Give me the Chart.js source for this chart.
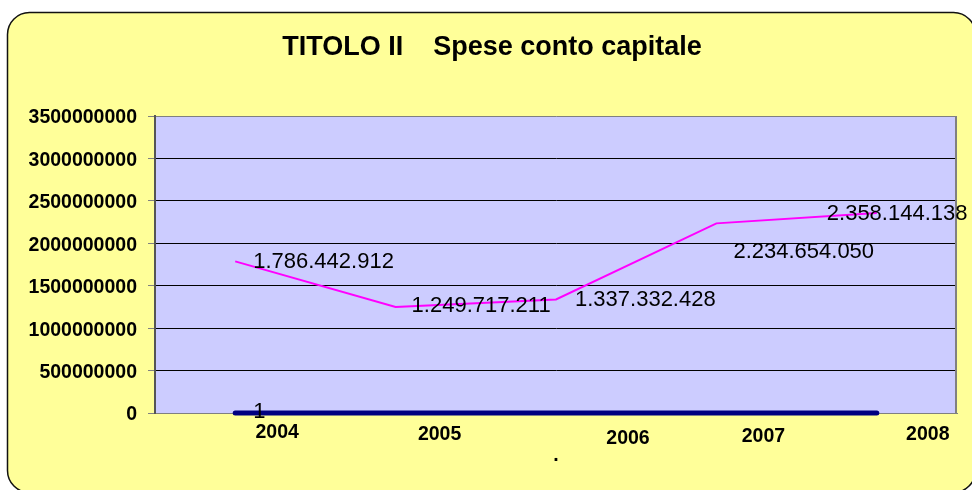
<!DOCTYPE html>
<html>
<head>
<meta charset="utf-8">
<title>TITOLO II Spese conto capitale</title>
<script src="https://cdn.jsdelivr.net/npm/chart.js@4/dist/chart.umd.min.js"></script>
<style>
  html, body { margin: 0; padding: 0; background: #fff; }
  .chart-wrap { position: relative; width: 972px; height: 490px; }
</style>
</head>
<body>
<div class="chart-wrap"><canvas id="speseChart"></canvas></div>
<script>
// Dati
const anni = ["2004", "2005", "2006", "2007", "2008"];
const speseCapitale = [1786442912, 1249717211, 1337332428, 2234654050, 2358144138];
const serieBase = [1, 0, 0, 0, 0];
const yTicks = [0, 500000000, 1000000000, 1500000000, 2000000000, 2500000000, 3000000000, 3500000000];
const titolo = "TITOLO II    Spese conto capitale";

// Spostamenti delle etichette (stile, non dati)
const xLabelShift = [[42, 25], [44, 27], [72, 31], [47, 29], [51, 27]];
const labelShift = [
  [[18, 7], [16, 5], [19, 6.5], [17, 35], [-50, 7]],
  [[18, 5]],
];

const FONT = "'Liberation Sans', Arial, Helvetica, sans-serif";
Chart.defaults.font.family = FONT;
Chart.defaults.color = "#000";

function formatIt(v) {
  return String(v).replace(/\B(?=(\d{3})+(?!\d))/g, ".");
}

function roundedBox(ctx, x, y, w, h, r) {
  ctx.beginPath();
  ctx.moveTo(x + r, y);
  ctx.lineTo(x + w - r, y);
  ctx.arcTo(x + w, y, x + w, y + r, r);
  ctx.lineTo(x + w, y + h - r);
  ctx.arcTo(x + w, y + h, x + w - r, y + h, r);
  ctx.lineTo(x + r, y + h);
  ctx.arcTo(x, y + h, x, y + h - r, r);
  ctx.lineTo(x, y + r);
  ctx.arcTo(x, y, x + r, y, r);
  ctx.closePath();
}

const decorPlugin = {
  id: "decor",
  beforeDraw(chart) {
    const { ctx, chartArea: a } = chart;
    ctx.save();
    ctx.fillStyle = "#ffffff";
    ctx.fillRect(0, 0, chart.width, chart.height);
    roundedBox(ctx, 7.5, 12.5, 968, 480, 22);
    ctx.fillStyle = "#FFFF99";
    ctx.fill();
    ctx.lineWidth = 1.5;
    ctx.strokeStyle = "#111";
    ctx.stroke();
    // area del grafico
    ctx.fillStyle = "#CCCCFF";
    ctx.fillRect(a.left, a.top, a.right - a.left, a.bottom - a.top);
    ctx.restore();
  },
  beforeDatasetsDraw(chart) {
    const { ctx, chartArea: a } = chart;
    ctx.save();
    ctx.strokeStyle = "#808080";
    ctx.lineWidth = 2;
    ctx.beginPath();
    ctx.moveTo(a.right - 1, a.top);
    ctx.lineTo(a.right - 1, a.bottom);
    ctx.stroke();
    ctx.restore();
  },
  afterDraw(chart) {
    const { ctx, chartArea: a } = chart;
    const xScale = chart.scales.x;
    ctx.save();

    // titolo
    ctx.fillStyle = "#000";
    ctx.font = "bold 27px " + FONT;
    ctx.textAlign = "center";
    ctx.textBaseline = "alphabetic";
    ctx.fillText(titolo, 492, 55);

    // etichette anni
    ctx.font = "bold 19.5px " + FONT;
    anni.forEach((anno, i) => {
      const px = xScale.getPixelForValue(i);
      ctx.fillText(anno, px + xLabelShift[i][0], a.bottom + xLabelShift[i][1]);
    });

    // etichette dei valori
    ctx.font = "22px " + FONT;
    ctx.textAlign = "left";
    chart.data.datasets.forEach((ds, d) => {
      const meta = chart.getDatasetMeta(d);
      meta.data.forEach((pt, i) => {
        const v = ds.data[i];
        if (!v) return;
        const off = labelShift[d][i] || [18, 5];
        ctx.fillText(formatIt(v), pt.x + off[0], pt.y + off[1]);
      });
    });
    ctx.restore();
  },
};

const ctx = document.getElementById("speseChart").getContext("2d");
const speseChart = new Chart(ctx, {
  type: "line",
  data: {
    labels: anni,
    datasets: [
      {
        label: "Spese conto capitale",
        data: speseCapitale,
        borderColor: "#FF00FF",
        borderWidth: 2,
        pointRadius: 0,
        tension: 0,
        fill: false,
        clip: false,
      },
      {
        label: "Serie 2",
        data: serieBase,
        borderColor: "#000080",
        borderWidth: 5,
        borderCapStyle: "round",
        pointRadius: 0,
        tension: 0,
        fill: false,
        clip: false,
      },
    ],
  },
  options: {
    responsive: true,
    maintainAspectRatio: false,
    animation: false,
    layout: {
      padding: { top: 116, right: 15, left: 0, bottom: 0 },
    },
    plugins: {
      legend: { display: false },
      tooltip: { enabled: false },
      title: { display: false },
    },
    scales: {
      x: {
        type: "category",
        offset: true,
        grid: { display: false },
        border: { color: "#808080", width: 1 },
        ticks: { display: false },
        title: {
          display: true,
          text: ".",
          font: { size: 19.5, weight: "bold" },
          color: "#000",
          padding: { top: 0, bottom: 23 },
        },
        afterFit(scale) {
          scale.height = 77;
        },
      },
      y: {
        min: yTicks[0],
        max: yTicks[yTicks.length - 1],
        ticks: {
          stepSize: yTicks[1] - yTicks[0],
          padding: 11,
          labelOffset: 2,
          color: "#000",
          font: { size: 19.5, weight: "bold" },
          callback: (v) => String(v),
        },
        grid: {
          color: (c) => (c.tick && c.tick.value === yTicks[yTicks.length - 1] ? "#808080" : "#000"),
          tickColor: "#808080",
          tickLength: 7,
          lineWidth: 1,
        },
        border: { color: "#555", width: 2 },
        afterFit(scale) {
          scale.width = 155;
        },
      },
    },
  },
  plugins: [decorPlugin],
});
</script>
</body>
</html>
